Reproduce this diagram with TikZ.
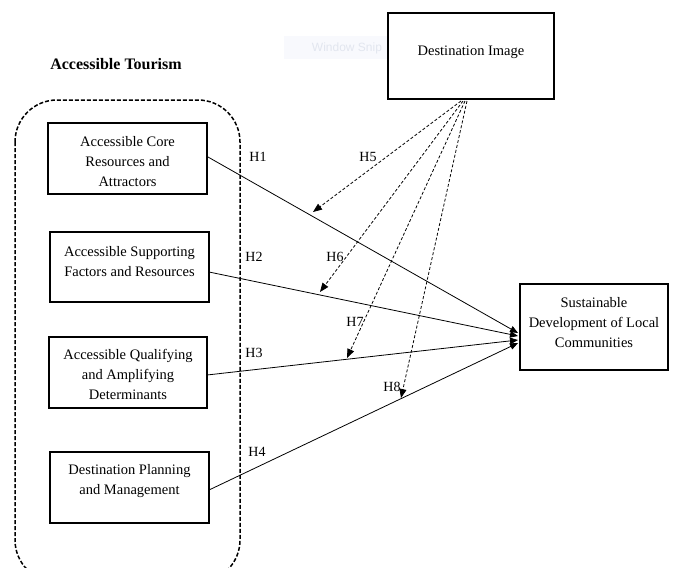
\documentclass[tikz,border=0pt]{standalone}
\usepackage{fontspec}
\setmainfont{Liberation Serif}
\newfontfamily\wmfont{Liberation Sans}
\usetikzlibrary{arrows.meta}
\definecolor{wmbg}{RGB}{248,249,253}
\definecolor{wmtext}{RGB}{226,230,239}
\tikzset{
  varbox/.style={draw=black, line width=1.5pt, rectangle, inner sep=0pt, fill=white},
  boxtext/.style={align=center, inner sep=0pt, font=\fontsize{14.5}{20}\selectfont},
  hlabel/.style={inner sep=0pt, font=\fontsize{14}{16}\selectfont},
  solidarrow/.style={line width=0.8pt, -{Triangle[length=8pt,width=6.5pt]}},
  dasharrow/.style={line width=0.8pt, dash pattern=on 3pt off 2pt, -{Triangle[length=9pt,width=7pt]}},
  groupbox/.style={line width=1.5pt, dash pattern=on 4pt off 2pt, rounded corners=42pt}
}
\begin{document}
\begin{tikzpicture}[x=1pt,y=-1pt]
\useasboundingbox[fill=white] (0,0) rectangle (673,568);
% faint screen-capture watermark
\fill[wmbg] (284,36) rectangle (400,59);
\node[inner sep=0pt, text=wmtext, font=\wmfont\fontsize{12}{14}\selectfont] (wm) at (347,48) {Window Snip};
% title
\node[inner sep=0pt, font=\fontsize{16}{18}\selectfont\bfseries] (title) at (116,64) {Accessible Tourism};
% group box
\draw[groupbox] (15,100) rectangle (240,582);
% boxes
\node[varbox, minimum width=159pt, minimum height=71pt] (b1) at (127.5,158.5) {};
\node[boxtext] (b1t) at (127.5,162) {Accessible Core\\Resources and\\Attractors};
\node[varbox, minimum width=159pt, minimum height=70pt] (b2) at (129.5,267) {};
\node[boxtext] (b2t) at (129.5,262) {Accessible Supporting\\Factors and Resources};
\node[varbox, minimum width=158pt, minimum height=71pt] (b3) at (128,372.5) {};
\node[boxtext] (b3t) at (128,374.5) {Accessible Qualifying\\and Amplifying\\Determinants};
\node[varbox, minimum width=159pt, minimum height=71pt] (b4) at (129.5,487.5) {};
\node[boxtext] (b4t) at (129.5,481.5) {Destination Planning\\and Management};
\node[varbox, minimum width=166pt, minimum height=86pt] (di) at (471,56) {};
\node[boxtext] (dit) at (471,52) {Destination Image};
\node[varbox, minimum width=148pt, minimum height=86pt] (sd) at (594,327) {};
\node[boxtext] (sdt) at (594,323) {Sustainable\\Development of Local\\Communities};
% anchor coordinates
\coordinate (s1) at (208,157);
\coordinate (s2) at (209,272);
\coordinate (s3) at (207,375);
\coordinate (s4) at (209,490);
\coordinate (e1) at (518,333);
\coordinate (e2) at (518,336);
\coordinate (e3) at (518,340);
\coordinate (e4) at (518,343);
\coordinate (d5) at (461,101);
\coordinate (d6) at (463,101);
\coordinate (d7) at (465,101);
\coordinate (d8) at (467,101);
\coordinate (t5) at (313,212);
\coordinate (t6) at (320,292);
\coordinate (t7) at (347,358);
\coordinate (t8) at (401,398);
% solid arrows
\draw[solidarrow] (s1) -- (e1);
\draw[solidarrow] (s2) -- (e2);
\draw[solidarrow] (s3) -- (e3);
\draw[solidarrow] (s4) -- (e4);
% dashed moderating arrows
\draw[dasharrow] (d5) -- (t5);
\draw[dasharrow] (d6) -- (t6);
\draw[dasharrow] (d7) -- (t7);
\draw[dasharrow] (d8) -- (t8);
% labels
\node[hlabel] (h1) at (258,157) {H1};
\node[hlabel] (h2) at (254,257) {H2};
\node[hlabel] (h3) at (254,353) {H3};
\node[hlabel] (h4) at (257,452) {H4};
\node[hlabel] (h5) at (368,157) {H5};
\node[hlabel] (h6) at (335,257) {H6};
\node[hlabel] (h7) at (355,322) {H7};
\node[hlabel] (h8) at (392,387) {H8};
\end{tikzpicture}
\end{document}
